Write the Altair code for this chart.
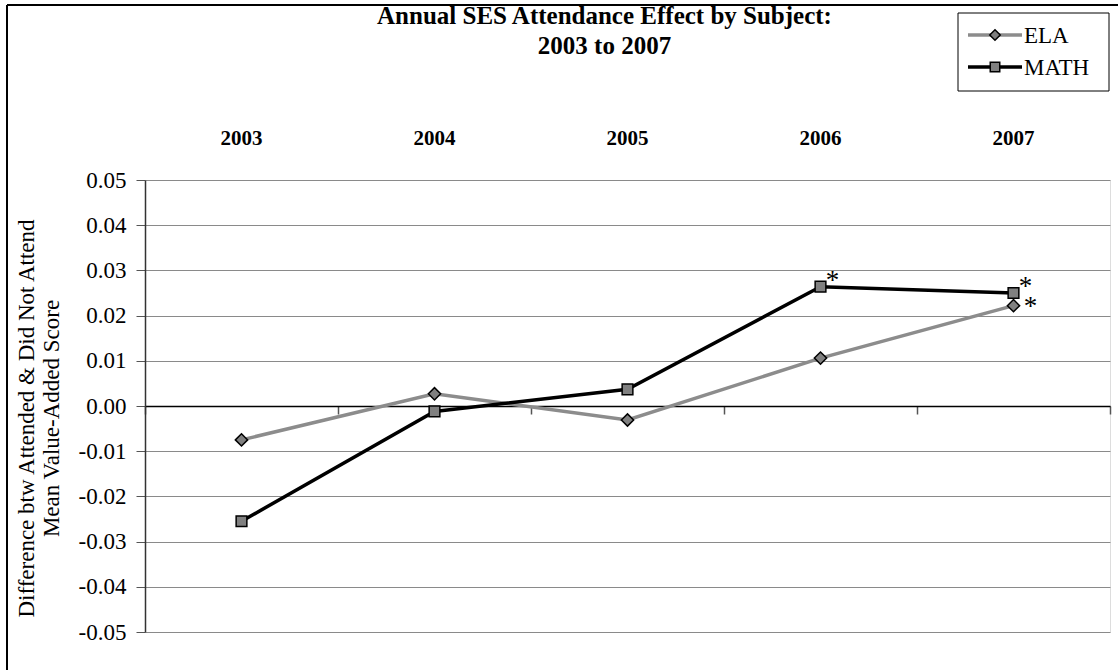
import altair as alt
import pandas as pd

# Annual SES attendance effect (attended minus did-not-attend mean value-added score)
years = ["2003", "2004", "2005", "2006", "2007"]
ela = [-0.0075, 0.0027, -0.0031, 0.0106, 0.0222]
math = [-0.0255, -0.0012, 0.0037, 0.0264, 0.0250]
# statistically significant years, marked with an asterisk
ela_sig = [False, False, False, False, True]
math_sig = [False, False, False, True, True]
series = ["ELA", "MATH"]
y_ticks = [-0.05, -0.04, -0.03, -0.02, -0.01, 0.0, 0.01, 0.02, 0.03, 0.04, 0.05]

W, H = 965, 452
FONT = "Liberation Serif"

rows = []
for name, vals, sig in [("ELA", ela, ela_sig), ("MATH", math, math_sig)]:
    for yr, v, s in zip(years, vals, sig):
        rows.append({"year": yr, "series": name, "value": v, "sig": s})
df = pd.DataFrame(rows)

x_scale = alt.Scale(domain=years, paddingInner=0, paddingOuter=0)
y_scale = alt.Scale(domain=[-0.05, 0.05], nice=False, zero=False)

y_axis = alt.Axis(
    values=y_ticks, labelExpr="replace(format(datum.value, '.2f'), '\u2212', '-')",
    labelFont=FONT, labelFontSize=23, labelColor="black",
    labelPadding=10, tickSize=9, tickColor="#555", domainColor="#333", domainWidth=1.5,
    grid=True, gridColor="#8a8a8a", gridWidth=1,
    title=["Difference btw Attended & Did Not Attend", "Mean Value-Added Score"],
    titleFont=FONT, titleFontSize=23, titleFontWeight="normal", titleColor="black",
    titlePadding=15, titleLineHeight=25, titleY=238,
)

base = alt.Chart(df)

# Year labels along the top edge
top_axis = alt.Axis(
    orient="top", title=None, domain=False, ticks=False, tickSize=0, grid=False,
    labelFont=FONT, labelFontSize=21, labelFontWeight="bold", labelColor="black",
    labelPadding=32, labelAngle=0,
)
# Category axis crossing at zero, ticks between categories
zero_axis = alt.Axis(
    orient="bottom", title=None, labels=False, grid=False, domain=True,
    domainColor="black", domainWidth=1.5, ticks=True, tickBand="extent",
    tickSize=8, tickColor="#555", tickWidth=1.5, offset=-H / 2,
)

color_scale = alt.Scale(domain=series, range=["#8c8c8c", "black"])
x_plain = alt.X("year:N", scale=x_scale, axis=None)
y_plain = alt.Y("value:Q", scale=y_scale)

lines = base.mark_line(strokeWidth=3.5).encode(
    x=alt.X("year:N", scale=x_scale, axis=top_axis),
    y=alt.Y("value:Q", scale=y_scale, axis=y_axis),
    color=alt.Color("series:N", scale=color_scale, legend=None),
)

zero_layer = base.mark_line(opacity=0).encode(
    x=alt.X("year:N", scale=x_scale, axis=zero_axis),
    y=y_plain,
    detail="series:N",
)

ela_pts = base.transform_filter(alt.datum.series == "ELA").mark_point(
    shape="diamond", size=150, filled=True, fill="#808080", stroke="black", strokeWidth=1.5, opacity=1
).encode(x=x_plain, y=y_plain)

math_pts = base.transform_filter(alt.datum.series == "MATH").mark_point(
    shape="square", size=115, filled=True, fill="#808080", stroke="black", strokeWidth=1.5, opacity=1
).encode(x=x_plain, y=y_plain)

math_star = base.transform_filter((alt.datum.series == "MATH") & alt.datum.sig).mark_text(
    text="*", font=FONT, fontSize=27, dx=12, dy=-6, color="black"
).encode(x=x_plain, y=y_plain)

ela_star = base.transform_filter((alt.datum.series == "ELA") & alt.datum.sig).mark_text(
    text="*", font=FONT, fontSize=27, dx=17, dy=1, color="black"
).encode(x=x_plain, y=y_plain)

# Legend box with line + marker samples
legend_df = pd.DataFrame({"series": series})
one_row = alt.Chart(legend_df).transform_filter(alt.datum.series == "ELA")
legend_box = one_row.mark_rect(
    fill="white", stroke="black", strokeWidth=1
).encode(x=alt.value(813), x2=alt.value(964), y=alt.value(-167), y2=alt.value(-89))

legend_layers = [legend_box]
for name, ypos, shape, size, lcolor in [
    ("ELA", -145, "diamond", 110, "#8c8c8c"),
    ("MATH", -113, "square", 90, "black"),
]:
    sub = alt.Chart(legend_df).transform_filter(alt.datum.series == name)
    legend_layers.append(sub.mark_rule(strokeWidth=3.5, color=lcolor).encode(
        x=alt.value(823), x2=alt.value(877), y=alt.value(ypos)))
    legend_layers.append(sub.mark_point(
        shape=shape, size=size, filled=True, fill="#808080", stroke="black", strokeWidth=1.5, opacity=1
    ).encode(x=alt.value(850), y=alt.value(ypos)))
    legend_layers.append(sub.mark_text(
        align="left", baseline="middle", font=FONT, fontSize=23, color="black", dy=1
    ).encode(x=alt.value(879), y=alt.value(ypos), text="series:N"))

# Outer frame around the chart
frame_left = one_row.mark_rule(color="black", strokeWidth=2).encode(
    x=alt.value(-138), y=alt.value(-175), y2=alt.value(H + 60))
frame_top = one_row.mark_rule(color="black", strokeWidth=2).encode(
    x=alt.value(-138), x2=alt.value(W + 60), y=alt.value(-175))

chart = alt.layer(
    lines, zero_layer, ela_pts, math_pts, math_star, ela_star,
    frame_left, frame_top, *legend_layers
).resolve_axis(x="independent").properties(
    width=W, height=H,
    autosize=alt.AutoSizeParams(type="none"),
    padding={"left": 145, "top": 180, "right": 8, "bottom": 38},
    title=alt.TitleParams(
        ["Annual SES Attendance Effect by Subject:", "2003 to 2007"],
        font=FONT, fontSize=25, fontWeight="bold", color="black",
        anchor="middle", frame="group", dx=-23, dy=55, offset=0, lineHeight=30,
    ),
).configure_view(stroke="#808080", strokeWidth=2).configure(background="white")

chart.save("out.html", embed_options={"renderer": "svg", "actions": False})
